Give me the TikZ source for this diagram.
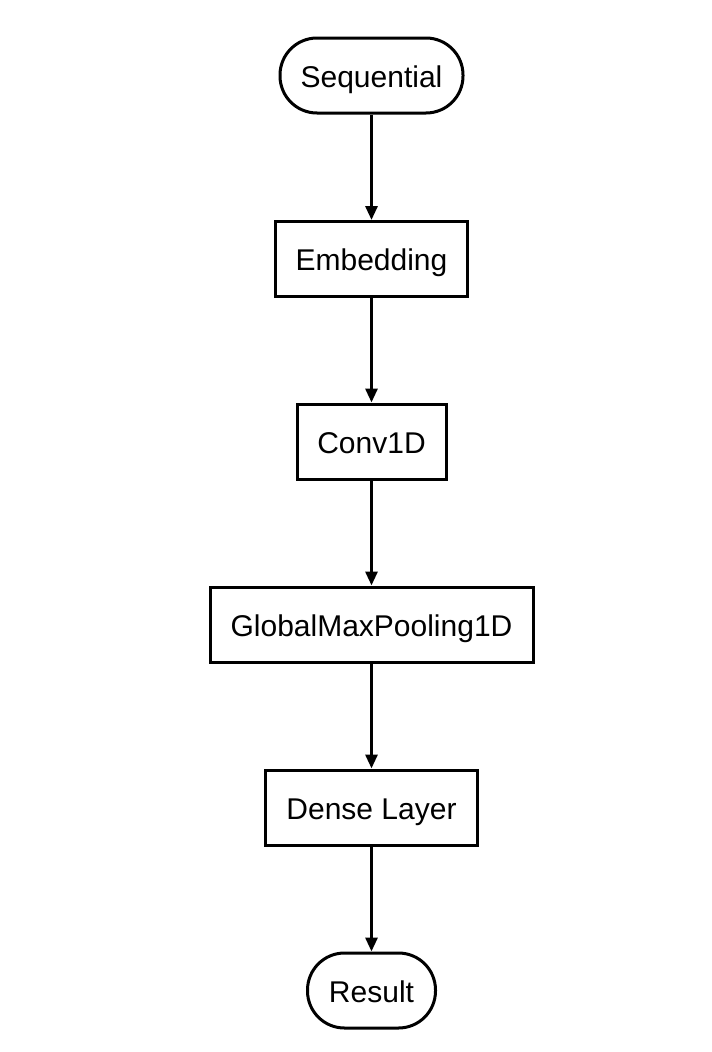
\documentclass[tikz,border=0pt]{standalone}
\usepackage{fontspec}
\setmainfont{Liberation Sans}
\usetikzlibrary{arrows.meta}

\tikzset{
  layer/.style={draw, line width=3pt, minimum height=75pt, inner sep=0pt, text height=24pt, text depth=1pt, font=\fontsize{30}{34}\selectfont},
  term/.style={layer, rounded corners=37pt},
  flow/.style={line width=3pt, -{Triangle[length=14pt,width=12pt]}}
}

\begin{document}
\begin{tikzpicture}
   \useasboundingbox (0pt,0pt) rectangle (712pt,-1052pt);

   \node[term, minimum width=183pt] (seq) at (371.5pt,-75.5pt) {Sequential};
   \node[layer, minimum width=192pt] (emb) at (371.5pt,-259pt) {Embedding};
   \node[layer, minimum width=149pt] (conv) at (371.5pt,-441.5pt) {Conv1D};
   \node[layer, minimum width=323pt] (pool) at (371.5pt,-624.5pt) {GlobalMaxPooling1D};
   \node[layer, minimum width=212pt] (dense) at (371.5pt,-807.5pt) {Dense Layer};
   \node[term, minimum width=128pt] (res) at (371.5pt,-990.5pt) {Result};

   \foreach \a/\b in {seq/emb, emb/conv, conv/pool, pool/dense, dense/res}
     \draw[flow] (\a) -- (\b);
\end{tikzpicture}
\end{document}
